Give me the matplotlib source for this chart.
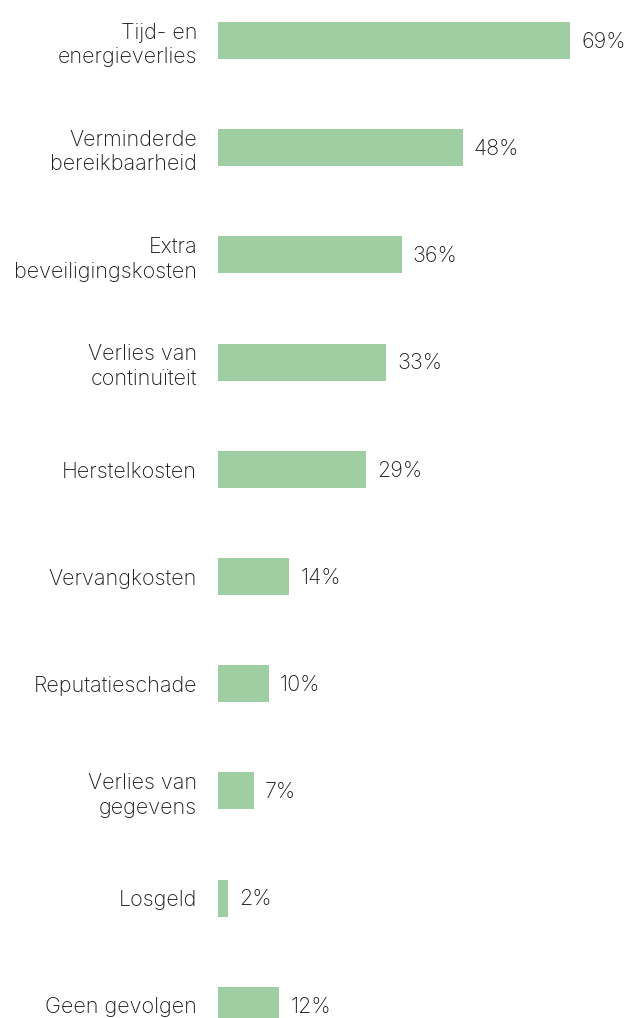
import matplotlib
matplotlib.use("Agg")
import matplotlib.pyplot as plt

categories = [
    "Tijd- en\nenergieverlies",
    "Verminderde\nbereikbaarheid",
    "Extra\nbeveiligingskosten",
    "Verlies van\ncontinuïteit",
    "Herstelkosten",
    "Vervangkosten",
    "Reputatieschade",
    "Verlies van\ngegevens",
    "Losgeld",
    "Geen gevolgen",
]
values = [69, 48, 36, 33, 29, 14, 10, 7, 2, 12]
value_labels = ["69%", "48%", "36%", "33%", "29%", "14%", "10%", "7%", "2%", "12%"]

plt.rcParams["font.family"] = ["Inter", "DejaVu Sans"]

W, H, DPI = 630, 1018, 100
fig = plt.figure(figsize=(W / DPI, H / DPI), dpi=DPI)
fig.patch.set_facecolor("white")

left_px = 218
ax = fig.add_axes([left_px / W, 0, 1 - left_px / W, 1])

px_per_unit = 352 / 69
ax.set_xlim(0, (W - left_px) / px_per_unit)

step = 107.2
first_center = 40.5
ax.set_ylim((H - first_center) / step, -first_center / step)

bar_color = "#a0cea3"
text_color = "#1a1a1a"
y = list(range(len(categories)))
ax.barh(y, values, height=37 / step, color=bar_color, edgecolor="none")

for yi, v, lab in zip(y, values, value_labels):
    ax.annotate(lab, (v, yi), xytext=(8, -1), textcoords="offset points",
                ha="left", va="center", fontsize=15.5, color=text_color,
                fontweight="light")

ax.set_yticks(y)
ax.set_yticklabels(categories, fontsize=15.5, color=text_color,
                   fontweight="light", linespacing=1.3)
ax.tick_params(axis="y", length=0, pad=15)
ax.set_xticks([])
for s in ax.spines.values():
    s.set_visible(False)

fig.savefig("out.png", dpi=DPI, facecolor="white")
